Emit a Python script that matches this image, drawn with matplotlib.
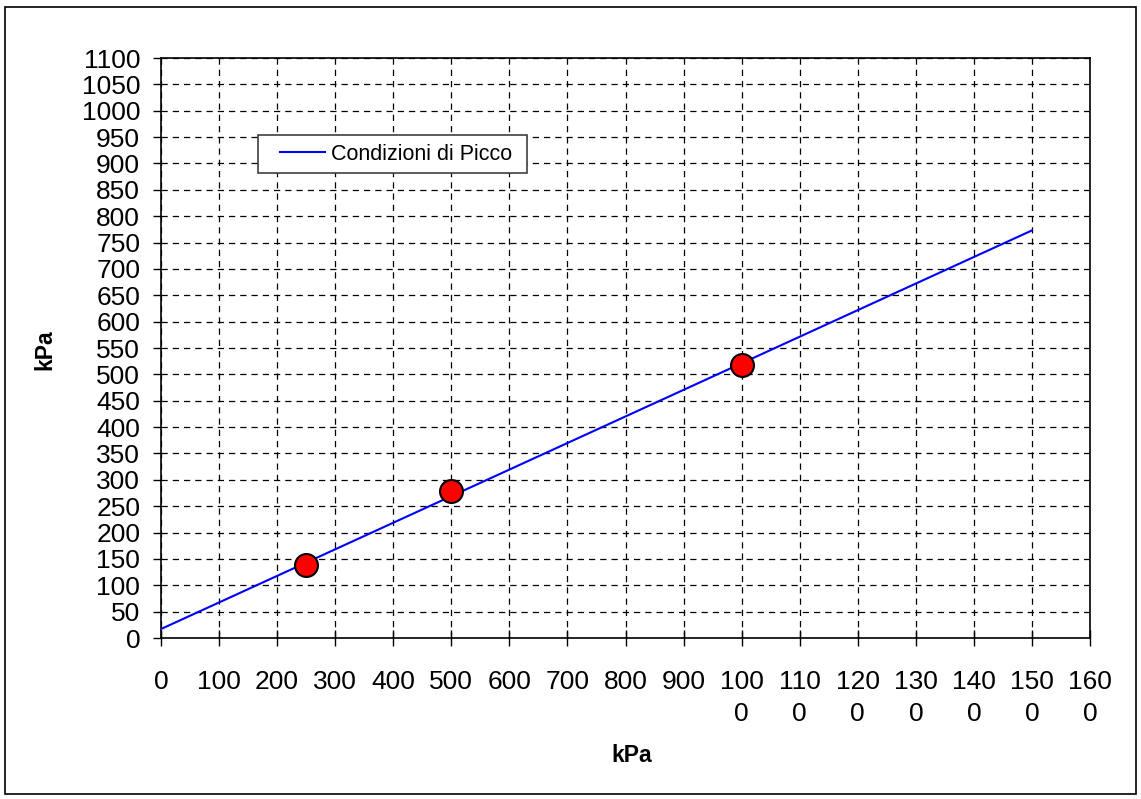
import matplotlib
matplotlib.use('Agg')
import matplotlib.pyplot as plt
from matplotlib.patches import Rectangle

# data
pts_x = [250, 500, 1000]
pts_y = [138, 278, 518]
line_x = [0, 1500]
line_y = [17, 773]
x_ticks = list(range(0, 1700, 100))
y_ticks = list(range(0, 1150, 50))
x_labels = [str(v) if v < 1000 else str(v)[:3] + '\n' + str(v)[3:] for v in x_ticks]

plt.rcParams['font.family'] = ['Liberation Sans', 'DejaVu Sans']

W, H = 1141, 799
fig = plt.figure(figsize=(W / 100, H / 100), dpi=100)
L, R, T, B = 161, 1090, 58, 638
ax = fig.add_axes([L / W, 1 - B / H, (R - L) / W, (B - T) / H])

ax.plot(line_x, line_y, color='#0000ff', lw=1.5, label='Condizioni di Picco', zorder=3)
ax.plot(pts_x, pts_y, 'o', ms=16.5, mfc='#ff0000', mec='black', mew=1.5, zorder=4)

ax.set_xlim(0, 1600)
ax.set_ylim(0, 1100)
ax.set_xticks(x_ticks)
ax.set_xticklabels(x_labels, va='top', linespacing=1.42)
ax.set_yticks(y_ticks)
ax.grid(True, color='black', ls=(0, (5, 4)), lw=0.9)
ax.tick_params(axis='x', direction='inout', length=11, width=1, labelsize=19, pad=17.5)
ax.tick_params(axis='y', direction='out', length=6, width=1, labelsize=19, pad=9)
for s in ax.spines.values():
    s.set_linewidth(1.2)

ax.set_xlabel('kPa', fontsize=16.5, fontweight='bold', va='center')
ax.xaxis.set_label_coords((632 - L) / (R - L), (B - 756) / (B - T))
ax.set_ylabel('kPa', fontsize=16.5, fontweight='bold', va='center')
ax.yaxis.set_label_coords((45 - L) / (R - L), (B - 350) / (B - T))

# legend: frame drawn separately so the paddings match
fs = 15.5
leg = ax.legend(loc='center left', bbox_to_anchor=(280 / W, 1 - 154 / H), bbox_transform=fig.transFigure,
                fontsize=fs, frameon=False, handlelength=45 / (fs * 100 / 72), handletextpad=0.3,
                borderpad=0, borderaxespad=0)
leg.set_zorder(7)
ax.add_patch(Rectangle((258 / W, 1 - 173 / H), (527 - 258) / W, (173 - 135) / H,
                       transform=fig.transFigure, facecolor='white', edgecolor='#404040',
                       lw=1.2, zorder=6, clip_on=False))

fig.patches.append(Rectangle((5 / W, 5 / H), (1136 - 5) / W, (792 - 5) / H, transform=fig.transFigure,
                             fill=False, edgecolor='black', lw=1.2))

fig.savefig('out.png', dpi=100)
